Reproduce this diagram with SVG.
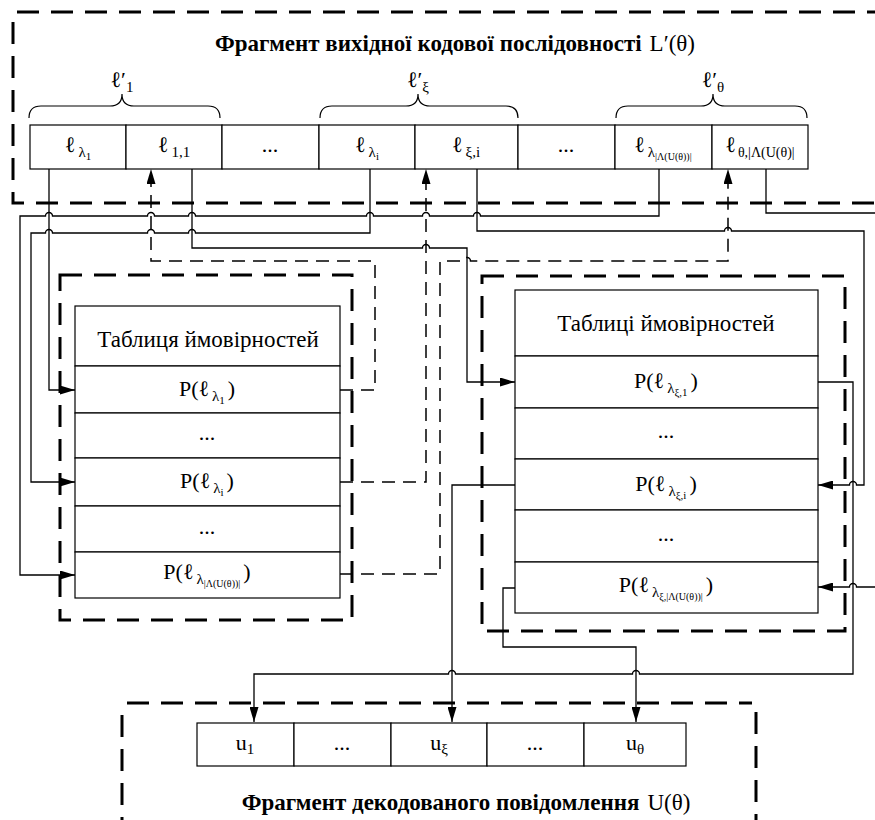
<svg xmlns="http://www.w3.org/2000/svg" width="875" height="820" viewBox="0 0 875 820">
<style>
text{font-family:"Liberation Serif","Times New Roman","DejaVu Serif",serif;font-size:22px;fill:#000}
.h{font-size:23px}
.b{font-weight:bold}
.cell{fill:#fff;stroke:#000;stroke-width:1.2}
.box{fill:none;stroke:#000;stroke-width:3;stroke-dasharray:22 12}
.c{fill:none;stroke:#000;stroke-width:1.3}
.d{fill:none;stroke:#000;stroke-width:1.5;stroke-dasharray:13 8}
.br{fill:none;stroke:#000;stroke-width:1.2}
.s{font-size:15px}
.ss{font-size:11px}
.sss{font-size:10px}
</style>
<defs>
<marker id="a" viewBox="0 0 15 9" refX="15" refY="4.5" markerWidth="15" markerHeight="9" orient="auto" markerUnits="userSpaceOnUse"><path d="M0,0 L15,4.5 L0,9 z" fill="#000"/></marker>
</defs>

<g id="top-fragment">
<path class="box" d="M17,12 H875"/>
<path class="box" d="M13,22 V203 H875"/>
<text class="h" x="455" y="51" text-anchor="middle"><tspan class="b">Фрагмент вихідної кодової послідовності</tspan><tspan dx="8">L′(θ)</tspan></text>
<path class="br" d="M29,118 Q29,106 41,106 L110,106 Q122,106 122,94 Q122,106 134,106 L208,106 Q220,106 220,118"/>
<path class="br" d="M320,118 Q320,106 332,106 L406,106 Q418,106 418,94 Q418,106 430,106 L506,106 Q518,106 518,118"/>
<path class="br" d="M616,118 Q616,106 628,106 L701,106 Q713,106 713,94 Q713,106 725,106 L795,106 Q807,106 807,118"/>
<text x="122" y="87" text-anchor="middle">ℓ′<tspan class="s" dy="5">1</tspan></text>
<text x="418" y="87" text-anchor="middle">ℓ′<tspan class="s" dy="5">ξ</tspan></text>
<text x="713" y="87" text-anchor="middle">ℓ′<tspan class="s" dy="5">θ</tspan></text>
</g>

<g id="codeword">
<rect class="cell" x="30" y="125" width="96" height="44"/>
<rect class="cell" x="126" y="125" width="96" height="44"/>
<rect class="cell" x="222" y="125" width="97" height="44"/>
<rect class="cell" x="319" y="125" width="96" height="44"/>
<rect class="cell" x="415" y="125" width="103" height="44"/>
<rect class="cell" x="518" y="125" width="97" height="44"/>
<rect class="cell" x="615" y="125" width="97" height="44"/>
<rect class="cell" x="712" y="125" width="96" height="44"/>
<text x="78" y="152" text-anchor="middle">ℓ<tspan class="s" dx="3" dy="5">λ</tspan><tspan class="ss" dy="3">1</tspan></text>
<text x="174" y="152" text-anchor="middle">ℓ<tspan class="s" dx="3" dy="5">1,1</tspan></text>
<text x="270" y="152" text-anchor="middle">...</text>
<text x="367" y="152" text-anchor="middle">ℓ<tspan class="s" dx="3" dy="5">λ</tspan><tspan class="ss" dy="3">i</tspan></text>
<text x="466" y="152" text-anchor="middle">ℓ<tspan class="s" dx="3" dy="5">ξ,i</tspan></text>
<text x="566" y="152" text-anchor="middle">...</text>
<text x="663" y="152" text-anchor="middle">ℓ<tspan class="s" dx="3" dy="5">λ</tspan><tspan class="sss" dy="3">|Λ(U(θ))|</tspan></text>
<text x="760" y="152" text-anchor="middle">ℓ<tspan dx="2" dy="5" font-size="14">θ,|Λ(U(θ)|</tspan></text>
</g>

<g id="table-left">
<rect class="box" x="60" y="275" width="292" height="345"/>
<rect class="cell" x="75" y="306" width="265" height="60"/>
<rect class="cell" x="75" y="366" width="265" height="47"/>
<rect class="cell" x="75" y="413" width="265" height="45"/>
<rect class="cell" x="75" y="458" width="265" height="48"/>
<rect class="cell" x="75" y="506" width="265" height="46"/>
<rect class="cell" x="75" y="552" width="265" height="46"/>
<text class="h" x="208" y="347" text-anchor="middle">Таблиця ймовірностей</text>
<text x="207" y="396" text-anchor="middle">P(ℓ<tspan class="s" dx="3" dy="5">λ</tspan><tspan class="ss" dy="3">1</tspan><tspan dx="3" dy="-8">)</tspan></text>
<text x="207" y="440" text-anchor="middle">...</text>
<text x="207" y="488" text-anchor="middle">P(ℓ<tspan class="s" dx="3" dy="5">λ</tspan><tspan class="ss" dy="3">i</tspan><tspan dx="3" dy="-8">)</tspan></text>
<text x="207" y="534" text-anchor="middle">...</text>
<text x="207" y="579" text-anchor="middle">P(ℓ<tspan class="s" dx="3" dy="5">λ</tspan><tspan class="sss" dy="3">|Λ(U(θ))|</tspan><tspan dx="3" dy="-8">)</tspan></text>
</g>

<g id="table-right">
<rect class="box" x="482" y="276" width="363" height="355"/>
<rect class="cell" x="515" y="290" width="303" height="66"/>
<rect class="cell" x="515" y="356" width="303" height="52"/>
<rect class="cell" x="515" y="408" width="303" height="51"/>
<rect class="cell" x="515" y="459" width="303" height="51"/>
<rect class="cell" x="515" y="510" width="303" height="52"/>
<rect class="cell" x="515" y="562" width="303" height="51"/>
<text class="h" x="666" y="331" text-anchor="middle">Таблиці ймовірностей</text>
<text x="666" y="388" text-anchor="middle">P(ℓ<tspan class="s" dx="3" dy="5">λ</tspan><tspan class="ss" dy="3">ξ,1</tspan><tspan dx="3" dy="-8">)</tspan></text>
<text x="666" y="438" text-anchor="middle">...</text>
<text x="666" y="491" text-anchor="middle">P(ℓ<tspan class="s" dx="3" dy="5">λ</tspan><tspan class="ss" dy="3">ξ,i</tspan><tspan dx="3" dy="-8">)</tspan></text>
<text x="666" y="541" text-anchor="middle">...</text>
<text x="666" y="592" text-anchor="middle">P(ℓ<tspan class="s" dx="3" dy="5">λ</tspan><tspan class="sss" dy="3">ξ,|Λ(U(θ))|</tspan><tspan dx="3" dy="-8">)</tspan></text>
</g>

<g id="bottom-fragment">
<path class="box" d="M127,703 H752"/>
<path class="box" d="M122,715 V820"/>
<path class="box" d="M756,712 V820"/>
<rect class="cell" x="197" y="723" width="97" height="43"/>
<rect class="cell" x="294" y="723" width="97" height="43"/>
<rect class="cell" x="391" y="723" width="96" height="43"/>
<rect class="cell" x="487" y="723" width="97" height="43"/>
<rect class="cell" x="584" y="723" width="102" height="43"/>
<text x="245" y="750" text-anchor="middle">u<tspan class="s" dy="4">1</tspan></text>
<text x="342" y="750" text-anchor="middle">...</text>
<text x="439" y="750" text-anchor="middle">u<tspan class="s" dy="4">ξ</tspan></text>
<text x="535" y="750" text-anchor="middle">...</text>
<text x="635" y="750" text-anchor="middle">u<tspan class="s" dy="4">θ</tspan></text>
<text class="h" x="466" y="810" text-anchor="middle"><tspan class="b">Фрагмент декодованого повідомлення</tspan><tspan dx="8">U(θ)</tspan></text>
</g>

<g id="connectors">
<path class="c" marker-end="url(#a)" d="M49,169 V390 H75"/>
<path class="c" marker-end="url(#a)" d="M370,169 V233 H195.5 A3.5,3.5 0 0 0 188.5,233 H154.5 A3.5,3.5 0 0 0 147.5,233 H52.5 A3.5,3.5 0 0 0 45.5,233 H31 V482 H75"/>
<path class="c" marker-end="url(#a)" d="M659,169 V216 H480.5 A3.5,3.5 0 0 0 473.5,216 H429.5 A3.5,3.5 0 0 0 422.5,216 H373.5 A3.5,3.5 0 0 0 366.5,216 H195.5 A3.5,3.5 0 0 0 188.5,216 H154.5 A3.5,3.5 0 0 0 147.5,216 H52.5 A3.5,3.5 0 0 0 45.5,216 H20 V575 H75"/>
<path class="c" marker-end="url(#a)" d="M192,169 V248 H422.5 A3.5,3.5 0 0 1 429.5,248 H467 V382 H515"/>
<path class="c" marker-end="url(#a)" d="M477,169 V231 H724.5 A3.5,3.5 0 0 1 731.5,231 H864 V485 H856.5 A3.5,3.5 0 0 0 849.5,485 H818"/>
<path class="c" d="M766,169 V213 H876"/>
<path class="c" marker-end="url(#a)" d="M876,587 H856.5 A3.5,3.5 0 0 0 849.5,587 H818"/>
<path class="d" marker-end="url(#a)" d="M340,390 H375 V261 H151 V169"/>
<path class="d" marker-end="url(#a)" d="M340,482 H426 V169"/>
<path class="d" marker-end="url(#a)" d="M340,574 H440 V261 H463.5 A3.5,3.5 0 0 1 470.5,261 H728 V169"/>
<path class="c" marker-end="url(#a)" d="M818,382 H853 V674 H639.5 A3.5,3.5 0 0 0 632.5,674 H455.5 A3.5,3.5 0 0 0 448.5,674 H254 V722"/>
<path class="c" marker-end="url(#a)" d="M515,485 H452 V722"/>
<path class="c" marker-end="url(#a)" d="M515,588 H503 V647 H636 V722"/>
</g>
</svg>
